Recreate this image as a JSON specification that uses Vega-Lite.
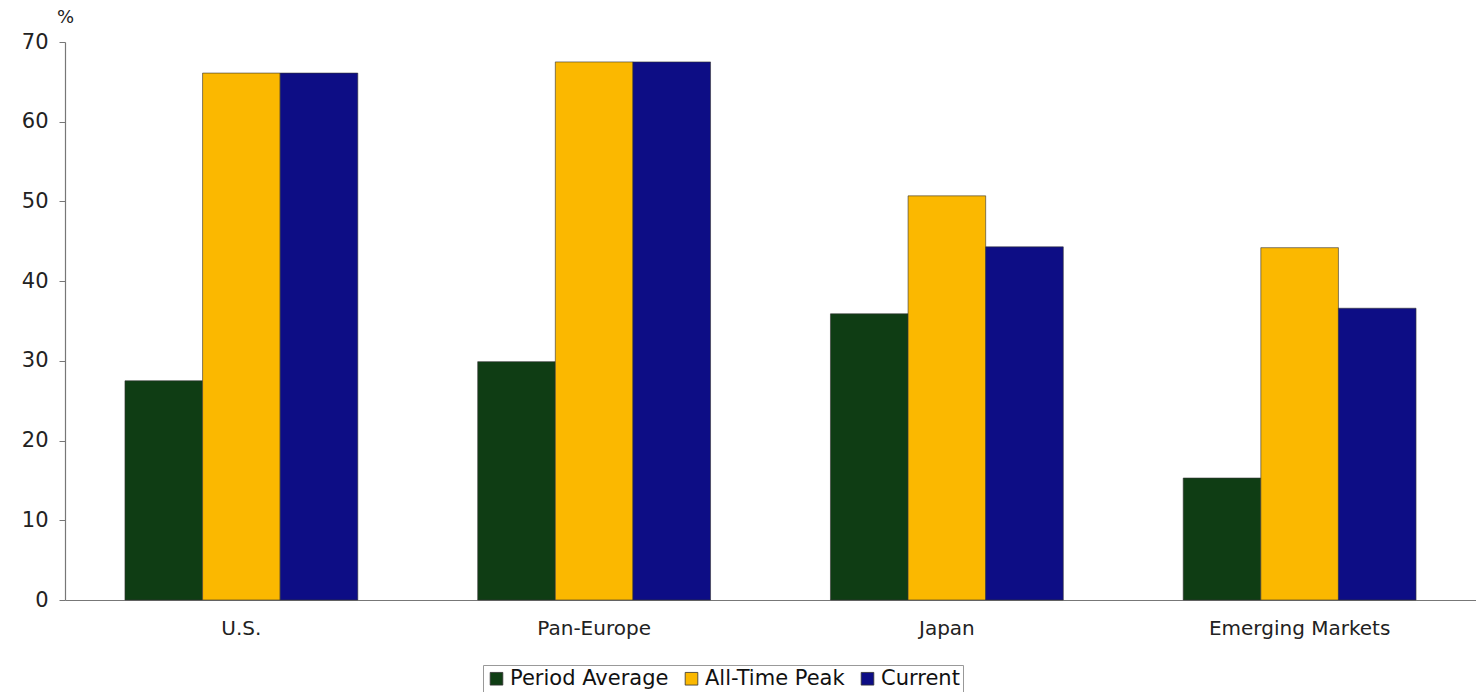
{
  "$schema": "https://vega.github.io/schema/vega-lite/v6.json",
  "autosize": "none",
  "width": 1411,
  "height": 558,
  "padding": {"left": 65, "top": 42, "right": 0, "bottom": 92},
  "background": "white",
  "data": {
    "values": [
      {"region": "U.S.", "measure": "Period Average", "value": 27.5},
      {"region": "U.S.", "measure": "All-Time Peak", "value": 66.1},
      {"region": "U.S.", "measure": "Current", "value": 66.1},
      {"region": "Pan-Europe", "measure": "Period Average", "value": 29.9},
      {"region": "Pan-Europe", "measure": "All-Time Peak", "value": 67.5},
      {"region": "Pan-Europe", "measure": "Current", "value": 67.5},
      {"region": "Japan", "measure": "Period Average", "value": 35.9},
      {"region": "Japan", "measure": "All-Time Peak", "value": 50.7},
      {"region": "Japan", "measure": "Current", "value": 44.3},
      {"region": "Emerging Markets", "measure": "Period Average", "value": 15.3},
      {"region": "Emerging Markets", "measure": "All-Time Peak", "value": 44.2},
      {"region": "Emerging Markets", "measure": "Current", "value": 36.6}
    ]
  },
  "mark": {"type": "bar", "stroke": "#333333", "strokeWidth": 0.6},
  "encoding": {
    "x": {
      "field": "region",
      "type": "nominal",
      "sort": ["U.S.", "Pan-Europe", "Japan", "Emerging Markets"],
      "scale": {"paddingInner": 0.34, "paddingOuter": 0.17},
      "axis": {
        "title": null,
        "labelAngle": 0,
        "labelLimit": 400,
        "ticks": false,
        "labelPadding": 18,
        "labelFontSize": 20,
        "labelFont": "DejaVu Sans",
        "labelColor": "#222222",
        "domainColor": "#777777",
        "domainWidth": 1.2
      }
    },
    "xOffset": {
      "field": "measure",
      "type": "nominal",
      "sort": ["Period Average", "All-Time Peak", "Current"]
    },
    "y": {
      "field": "value",
      "type": "quantitative",
      "scale": {"domain": [0, 70], "nice": false},
      "axis": {
        "values": [0, 10, 20, 30, 40, 50, 60, 70],
        "grid": false,
        "title": "%",
        "titleAngle": 0,
        "titleFont": "DejaVu Sans",
        "titleFontWeight": "normal",
        "titleFontSize": 18,
        "titleColor": "#222222",
        "titleAlign": "center",
        "titleX": 0,
        "titleY": -16,
        "tickSize": 6,
        "tickColor": "#777777",
        "domainColor": "#777777",
        "domainWidth": 1.2,
        "labelPadding": 11,
        "labelFontSize": 21,
        "labelFont": "DejaVu Sans",
        "labelColor": "#222222"
      }
    },
    "color": {
      "field": "measure",
      "type": "nominal",
      "sort": ["Period Average", "All-Time Peak", "Current"],
      "scale": {
        "domain": ["Period Average", "All-Time Peak", "Current"],
        "range": ["#0f3d14", "#fbb800", "#0d0d85"]
      },
      "legend": {
        "title": null,
        "orient": "none",
        "direction": "horizontal",
        "legendX": 418,
        "legendY": 623,
        "symbolType": "square",
        "symbolSize": 160,
        "symbolStrokeColor": "#333333",
        "symbolStrokeWidth": 0.8,
        "labelFontSize": 21,
        "labelFont": "DejaVu Sans",
        "labelColor": "#111111",
        "labelOffset": 3,
        "columnPadding": 12,
        "padding": 3,
        "strokeColor": "#999999",
        "fillColor": "white"
      }
    }
  },
  "config": {"view": {"stroke": null}}
}
